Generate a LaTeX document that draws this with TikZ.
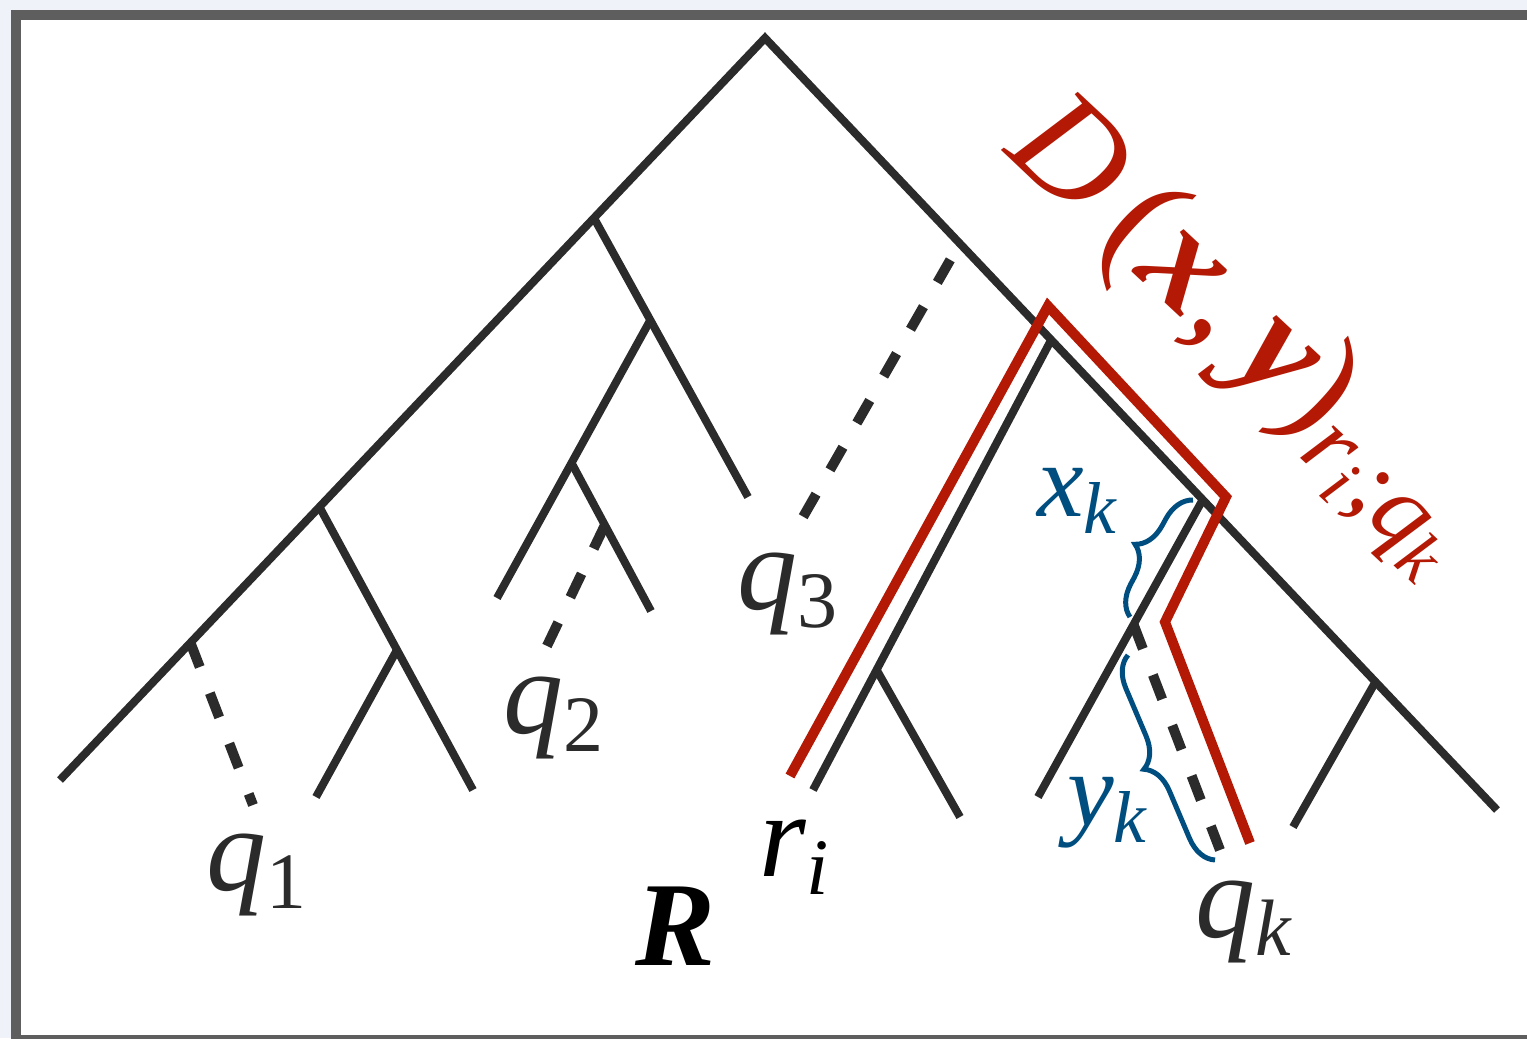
\documentclass[tikz,border=0pt]{standalone}
\usepackage{fontspec}
\setmainfont{Liberation Serif}
\usetikzlibrary{calc, positioning}
\usetikzlibrary{decorations.pathreplacing}

\definecolor{treegray}{HTML}{2B2B2B}
\definecolor{pathred}{HTML}{B31905}
\definecolor{braceblue}{HTML}{004E7F}
\definecolor{framegray}{HTML}{5E5E5E}
\definecolor{pagebg}{HTML}{EFF2F8}

\newcommand{\tsub}[2]{\textit{#1}\textsubscript{#2}}

\begin{document}
\begin{tikzpicture}[x=0.1pt, y=-0.1pt,
  branch/.style={draw=treegray, line width=0.8pt},
  graft/.style={draw=treegray, line width=1pt, dash pattern=on 2.6pt off 2.8pt},
  route/.style={draw=pathred, line width=1pt, miter limit=20},
  span/.style={draw=braceblue, line width=0.5pt, decorate, decoration={brace, amplitude=3pt}},
  leaf/.style={font=\fontsize{12}{14}\selectfont, text=treegray, inner sep=0pt},
  gap/.style={font=\fontsize{10.5}{12}\selectfont, text=braceblue, inner sep=0pt}]

\useasboundingbox (0,0) rectangle (1527,1038);
\fill[pagebg] (0,0) rectangle (1527,1038);
\clip (0,0) rectangle (1527,1038);
\draw[framegray, line width=1pt, fill=white] (16,15) rectangle (1560,1040);

% main branches
\coordinate (root) at (765,38);
\coordinate (lend) at (60,780);
\coordinate (rend) at (1497,810);
\draw[branch] (lend) -- (root) -- (rend);

% left part
\coordinate (a1) at ($(root)!0.2426!(lend)$);
\coordinate (a1leaf) at (748,497);
\coordinate (a2) at ($(a1)!0.366!(a1leaf)$);
\coordinate (a2leaf) at (497,598);
\coordinate (a3) at ($(a2)!0.514!(a2leaf)$);
\coordinate (a3leaf) at (651,611);
\coordinate (q2s) at ($(a3)!0.42!(a3leaf)$);
\coordinate (q2end) at (545,650);
\draw[branch] (a1) -- (a1leaf);
\draw[branch] (a2) -- (a2leaf);
\draw[branch] (a3) -- (a3leaf);
\draw[graft] (q2s) -- (q2end);

\coordinate (b1) at ($(root)!0.632!(lend)$);
\coordinate (b1leaf) at (473,790);
\coordinate (b2) at ($(b1)!0.505!(b1leaf)$);
\coordinate (b2leaf) at (316,797);
\draw[branch] (b1) -- (b1leaf);
\draw[branch] (b2) -- (b2leaf);

\coordinate (c1) at ($(root)!0.815!(lend)$);
\coordinate (q1end) at (253,805);
\draw[graft] (c1) -- (q1end);

% right part
\coordinate (q3s) at ($(root)!0.266!(rend)$);
\coordinate (q3end) at (803,517);
\draw[graft, dash phase=3.5pt] (q3s) -- (q3end);

\coordinate (d1) at ($(root)!0.391!(rend)$);
\coordinate (rileaf) at (813,790);
\coordinate (d2) at ($(d1)!0.733!(rileaf)$);
\coordinate (d2leaf) at (960,817);
\draw[branch] (d1) -- (rileaf);
\draw[branch] (d2) -- (d2leaf);

\coordinate (e1) at ($(root)!0.598!(rend)$);
\coordinate (e1leaf) at (1038,797);
\coordinate (e2) at ($(e1)!0.42!(e1leaf)$);
\coordinate (qkend) at (1220,850);
\draw[branch] (e1) -- (e1leaf);
\draw[graft] (e2) -- (qkend);

\coordinate (f1) at ($(root)!0.834!(rend)$);
\coordinate (f1leaf) at (1293,827);
\draw[branch] (f1) -- (f1leaf);

% path r_i to q_k
\coordinate (p0) at (790,776);
\coordinate (p1) at (1048,306);
\coordinate (p2) at (1226,497);
\coordinate (p3) at (1165,622);
\coordinate (p4) at (1250,843);
\draw[route] (p0) -- (p1) -- (p2) -- (p3) -- (p4);

% braces
\coordinate (xkbot) at (1130,617);
\coordinate (xktop) at (1193,500);
\coordinate (ykbot) at (1215,860);
\coordinate (yktop) at (1128,655);
\draw[span] (xkbot) -- (xktop);
\draw[span] (ykbot) -- (yktop);

% labels
\node[leaf] (q1) at (259,875) {\tsub{q}{1}};
\node[leaf] (q2) at (556,718) {\tsub{q}{2}};
\node[leaf] (q3) at (790,594) {\tsub{q}{3}};
\node[leaf, text=black] (ri) at (797,857) {\tsub{r}{\textit{i}}};
\node[leaf, text=black] (R) at (676,926) {\textbf{\textit{R}}};
\node[leaf] (qk) at (1246,922) {\tsub{q}{\textit{k}}};
\node[gap] (xk) at (1080,501) {\tsub{x}{\textit{k}}};
\node[gap] (yk) at (1110,813) {\tsub{y}{\textit{k}}};
\node[font=\fontsize{14.5}{17}\selectfont, text=pathred, inner sep=0pt, rotate=-43]
  (dist) at (1245,338)
  {\textit{D\/}\,(\textbf{\textit{x\/}},\,\textbf{\textit{y\/}})\textsubscript{\tsub{r}{\textit{i}};\tsub{q}{\textit{k}}}};
\end{tikzpicture}
\end{document}
